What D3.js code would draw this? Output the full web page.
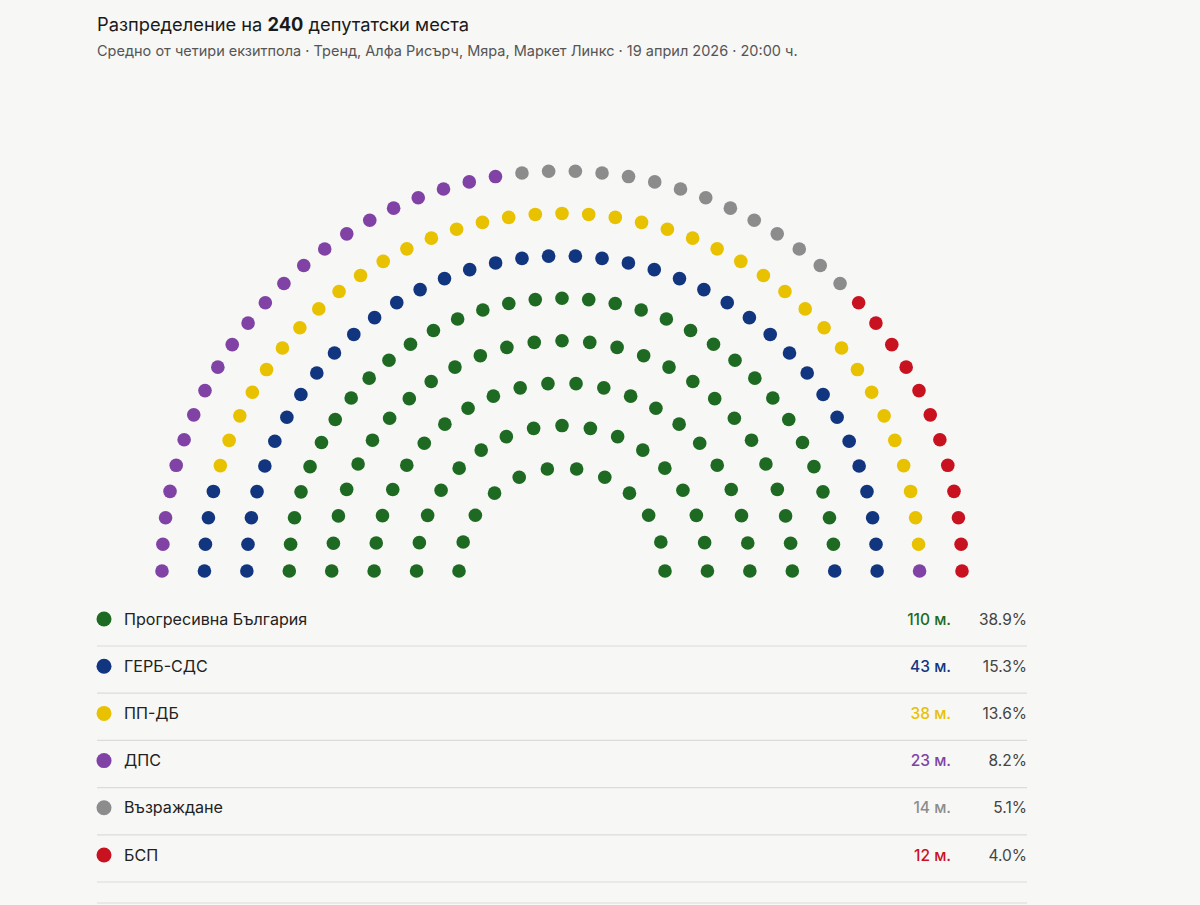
<!DOCTYPE html>
<html>
<head>
<meta charset="utf-8">
<script src="https://cdn.jsdelivr.net/npm/d3@7"></script>
<style>
  html, body { margin: 0; padding: 0; background: #f7f7f5; }
  svg { display: block; font-family: Inter, "Noto Sans", sans-serif; }
</style>
</head>
<body>
<svg id="chart" width="1200" height="905"></svg>
<script>
const parties = ["Прогресивна България", "ГЕРБ-СДС", "ПП-ДБ", "ДПС", "Възраждане", "БСП"];
const seats = [110, 43, 38, 23, 14, 12];
const percents = ["38.9%", "15.3%", "13.6%", "8.2%", "5.1%", "4.0%"];
const colors = ["#1e6a22", "#12357f", "#e8c100", "#8043a5", "#8c8c8c", "#c8121f"];
const rowSeats = [12, 17, 22, 27, 33, 38, 43, 48];

const svg = d3.select("#chart");
const W = 1200, H = 905;
svg.append("rect").attr("width", W).attr("height", H).attr("fill", "#f7f7f5");

// Title
const title = svg.append("text").attr("x", 97).attr("y", 31)
  .attr("font-size", 18.3).attr("fill", "#1a1a1a");
title.append("tspan").text("Разпределение на ");
title.append("tspan").attr("font-weight", 700).text("240");
title.append("tspan").text(" депутатски места");
svg.append("text").attr("x", 97).attr("y", 56).attr("font-size", 14.5).attr("fill", "#555")
  .text("Средно от четири екзитпола · Тренд, Алфа Рисърч, Мяра, Маркет Линкс · 19 април 2026 · 20:00 ч.");

// Parliament
const cx = 562, cy = 571;
const rScale = d3.scaleLinear().domain([0, rowSeats.length - 1]).range([103, 400]);
const seatList = [];
rowSeats.forEach((n, ri) => {
  const a = d3.scaleLinear().domain([0, n - 1]).range([Math.PI, 0]);
  for (let j = 0; j < n; j++) seatList.push({ row: ri, angle: a(j), r: rScale(ri) });
});
// assign parties sequentially
const partyOf = [];
seats.forEach((s, pi) => { for (let k = 0; k < s; k++) partyOf.push(pi); });
seatList.forEach((d, i) => d.party = partyOf[i]);

svg.append("g").selectAll("circle").data(seatList).join("circle")
  .attr("cx", d => cx + d.r * Math.cos(d.angle))
  .attr("cy", d => cy - d.r * Math.sin(d.angle))
  .attr("r", 6.8)
  .attr("fill", d => colors[d.party]);

// Legend
const yRow = d3.scaleLinear().domain([0, 1]).range([619, 619 + 47.2]);
const lg = svg.append("g");
parties.forEach((p, i) => {
  const y = yRow(i);
  lg.append("circle").attr("cx", 104).attr("cy", y).attr("r", 7.5).attr("fill", colors[i]);
  lg.append("text").attr("x", 124).attr("y", y + 5.5).attr("font-size", 16.1).attr("fill", "#222").text(p);
  lg.append("text").attr("x", 951).attr("y", y + 5.5).attr("font-size", 15.5).attr("font-weight", 500)
    .attr("text-anchor", "end").attr("fill", colors[i]).text(seats[i] + " м.");
  lg.append("text").attr("x", 1027).attr("y", y + 5.5).attr("font-size", 15.5)
    .attr("text-anchor", "end").attr("fill", "#444").text(percents[i]);
  lg.append("line").attr("x1", 97).attr("x2", 1027).attr("y1", y + 27).attr("y2", y + 27)
    .attr("stroke", "#dcdcda").attr("stroke-width", 1.2);
});
lg.append("line").attr("x1", 97).attr("x2", 1027).attr("y1", 903).attr("y2", 903)
  .attr("stroke", "#dcdcda").attr("stroke-width", 1.2);
</script>
</body>
</html>
